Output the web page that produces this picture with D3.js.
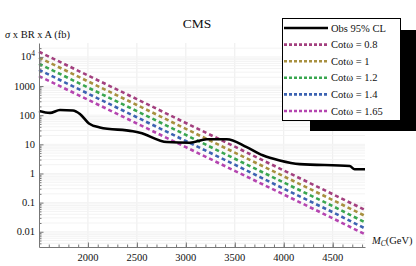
<!DOCTYPE html>
<html>
<head>
<meta charset="utf-8">
<script src="https://cdn.jsdelivr.net/npm/d3@7"></script>
<style>
  body { margin: 0; background: #fff; }
  text { font-family: "Liberation Serif", "DejaVu Serif", serif; fill: #111; }
</style>
</head>
<body>
<div id="chart-div"></div>
<script>
var masses = [1500, 2000, 2500, 3000, 3500, 4000, 4500, 4830];

var obs_mass = [1500, 1612, 1714, 1847, 1918, 2010, 2122, 2459, 2530, 2806, 3040,
                3214, 3418, 3622, 3785, 3959, 4163, 4673, 4724, 4830];
var obs_xsec = [140, 120, 150, 145, 110, 52, 38, 28, 25, 12, 11.4,
                15, 15, 8, 4.2, 2.8, 2.1, 1.8, 1.4, 1.4];

var cot_labels = ["Cotω = 0.8", "Cotω = 1", "Cotω = 1.2", "Cotω = 1.4", "Cotω = 1.65"];
var cot_08  = [15000, 2300, 355, 54, 8.3, 1.27, 0.195, 0.056];
var cot_10  = [9500, 1450, 224, 34, 5.2, 0.80, 0.123, 0.035];
var cot_12  = [5800, 890, 138, 21, 3.2, 0.49, 0.076, 0.021];
var cot_14  = [3600, 550, 85, 13, 2.0, 0.30, 0.047, 0.013];
var cot_165 = [2200, 340, 52, 8.0, 1.23, 0.19, 0.029, 0.0082];

var x_ticks = [2000, 2500, 3000, 3500, 4000, 4500];
var y_ticks = [0.01, 0.1, 1, 10, 100, 1000, 10000];
var y_tick_labels = ["0.01", "0.1", "1", "10", "100", "1000", "10^4"];

var fn = {};
var vars = {};

vars.plot = { left: 39, right: 365, top: 43, bottom: 247 };
vars.colors = ["#a3407f", "#a89040", "#3aa650", "#3d63b2", "#b545b0"];

fn.main = function() {
  var svg = d3.select("#chart-div").append("svg")
    .attr("width", 416)
    .attr("height", 266);

  var x = d3.scaleLinear().domain([1500, 4830]).range([vars.plot.left, vars.plot.right]);
  var y = d3.scaleLog().domain([0.003, 30000]).range([vars.plot.bottom, vars.plot.top]);

  // faint grid
  var minor_x = d3.range(1600, 4830, 100);
  var minor_y = [];
  y_ticks.concat([0.001]).forEach(function(d) {
    for (var k = 2; k <= 9; k++) {
      var v = d * k;
      if (v > 0.003 && v < 30000) minor_y.push(v);
    }
  });

  var grid = svg.append("g");
  grid.selectAll("line.gx").data(x_ticks).enter().append("line")
    .attr("x1", x).attr("x2", x)
    .attr("y1", vars.plot.top).attr("y2", vars.plot.bottom)
    .attr("stroke", "#ececec").attr("stroke-width", 1);
  grid.selectAll("line.gy").data(minor_y.concat(y_ticks)).enter().append("line")
    .attr("x1", vars.plot.left).attr("x2", vars.plot.right)
    .attr("y1", y).attr("y2", y)
    .attr("stroke", "#f3f3f3").attr("stroke-width", 1);

  // theory lines
  var series = [cot_08, cot_10, cot_12, cot_14, cot_165];
  var line_fn = d3.line()
    .x(function(d) { return x(d[0]); })
    .y(function(d) { return y(d[1]); });

  svg.append("g").selectAll("path").data(series).enter().append("path")
    .attr("d", function(s) { return line_fn(d3.zip(masses, s)); })
    .attr("fill", "none")
    .attr("stroke", function(d, i) { return vars.colors[i]; })
    .attr("stroke-width", 2.6)
    .attr("stroke-dasharray", "4,3");

  // observed limit
  svg.append("path")
    .attr("d", d3.line().curve(d3.curveMonotoneX)
      .x(function(d) { return x(d[0]); })
      .y(function(d) { return y(d[1]); })(d3.zip(obs_mass, obs_xsec)))
    .attr("fill", "none")
    .attr("stroke", "#000")
    .attr("stroke-width", 2.6);

  // axes
  var x_axis = svg.append("g")
    .attr("transform", "translate(0," + vars.plot.bottom + ")");
  x_axis.call(d3.axisTop(x).tickValues(minor_x).tickSize(2.5).tickFormat(""));
  x_axis.call(function(g) { g.select(".domain").remove(); });
  svg.append("g")
    .attr("transform", "translate(0," + vars.plot.bottom + ")")
    .call(d3.axisTop(x).tickValues(x_ticks).tickSize(4.5).tickFormat("").tickSizeOuter(0));
  svg.append("g").selectAll("text").data(x_ticks).enter().append("text")
    .attr("x", x).attr("y", 261)
    .attr("text-anchor", "middle")
    .attr("font-size", 10.5)
    .text(function(d) { return d; });

  var y_minor = svg.append("g")
    .attr("transform", "translate(" + vars.plot.left + ",0)")
    .call(d3.axisRight(y).tickValues(minor_y).tickSize(2.5).tickFormat(""));
  y_minor.select(".domain").remove();
  svg.append("g")
    .attr("transform", "translate(" + vars.plot.left + ",0)")
    .call(d3.axisRight(y).tickValues(y_ticks).tickSize(4.5).tickFormat("").tickSizeOuter(0));

  var ylabels = svg.append("g").selectAll("text").data(y_ticks).enter().append("text")
    .attr("x", 35).attr("y", function(d) { return y(d) + 3.5; })
    .attr("text-anchor", "end")
    .attr("font-size", 10.5);
  ylabels.each(function(d, i) {
    var parts = y_tick_labels[i].split("^");
    var t = d3.select(this);
    t.append("tspan").text(parts[0]);
    if (parts.length > 1) {
      t.append("tspan").attr("font-size", 7.5).attr("dy", -4).text(parts[1]);
    }
  });

  svg.selectAll(".domain, .tick line").attr("stroke", "#777");

  // titles
  svg.append("text")
    .attr("x", 197).attr("y", 28)
    .attr("text-anchor", "middle")
    .attr("font-size", 13.5)
    .text("CMS");

  var ylab = svg.append("text").attr("x", 5).attr("y", 38).attr("font-size", 10.5);
  ylab.append("tspan").attr("font-style", "italic").text("σ");
  ylab.append("tspan").text(" x BR x A (fb)");

  var xlab = svg.append("text").attr("x", 372).attr("y", 244).attr("font-size", 10.5);
  xlab.append("tspan").attr("font-style", "italic").text("M");
  xlab.append("tspan").attr("font-style", "italic").attr("font-size", 7.5).attr("dy", 2).text("C");
  xlab.append("tspan").attr("dy", -2).text("(GeV)");

  // legend with shadow
  svg.append("rect")
    .attr("x", 310).attr("y", 30).attr("width", 106).attr("height", 101)
    .attr("fill", "#000");
  svg.append("rect")
    .attr("x", 282.5).attr("y", 18.5).attr("width", 118).attr("height", 102)
    .attr("fill", "#fff").attr("stroke", "#000").attr("stroke-width", 1);

  var legend_items = [{ label: "Obs 95% CL", color: "#000", dash: null }].concat(
    cot_labels.map(function(l, i) { return { label: l, color: vars.colors[i], dash: "3,2" }; }));

  var leg = svg.append("g").selectAll("g").data(legend_items).enter().append("g")
    .attr("transform", function(d, i) { return "translate(0," + (28 + i * 16.6) + ")"; });
  leg.append("line")
    .attr("x1", 284).attr("x2", 328)
    .attr("stroke", function(d) { return d.color; })
    .attr("stroke-width", 2.6)
    .attr("stroke-dasharray", function(d) { return d.dash; });
  leg.append("text")
    .attr("x", 331).attr("y", 3.5)
    .attr("font-size", 10.5)
    .text(function(d) { return d.label; });
};

fn.main();
</script>
</body>
</html>
